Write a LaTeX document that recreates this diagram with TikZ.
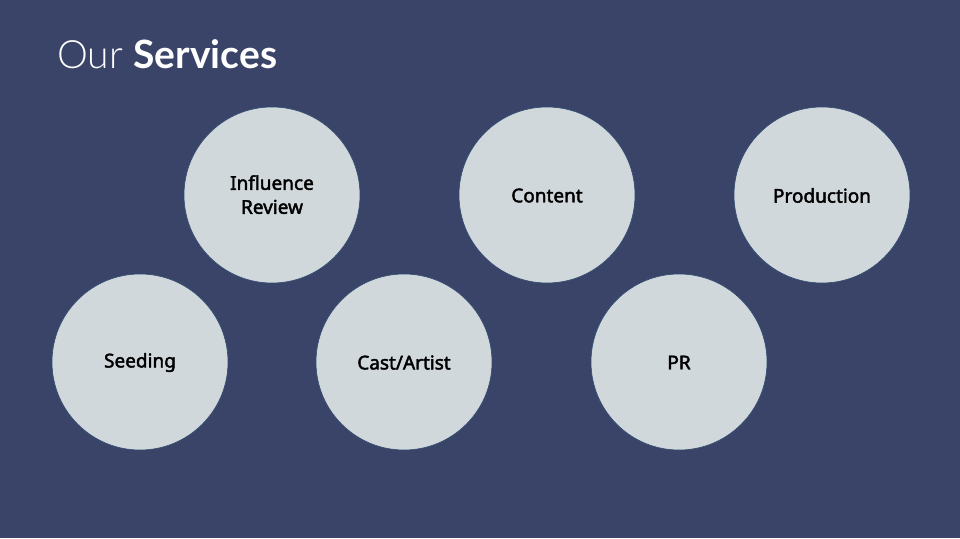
\documentclass[tikz,border=0pt]{standalone}
\usepackage{fontspec}
\setmainfont{Noto Sans}
\newfontfamily\svcfont{Noto Sans}[FakeBold=2.2]
\newfontfamily\titlefont{Lato Light}
\newfontfamily\titlebold{Lato Bold}
\definecolor{bg}{HTML}{3A4468}
\definecolor{disc}{HTML}{D0D8DC}
\definecolor{discedge}{HTML}{2E4A6E}
\newcommand{\dn}[2][-2pt]{\raisebox{#1}[\height][\depth]{#2}}
\begin{document}
\begin{tikzpicture}[x=1pt,y=-1pt,
  service/.style={circle,fill=disc,draw=discedge,line width=0.6pt,minimum size=176pt,inner sep=0pt,
    align=center,font=\fontsize{19}{24}\selectfont\svcfont,text=black}]
\fill[bg] (0,0) rectangle (960,538);
\useasboundingbox (0,0) rectangle (960,538);
\node[anchor=base west,text=white,inner sep=0pt] (title) at (57,68)
  {\fontsize{39}{46}\selectfont\titlefont Our \titlebold Services};
\node[service] (influence) at (272,195) {\dn{\begin{tabular}{@{}c@{}}Influence\\Review\end{tabular}}};
\node[service] (content) at (547,195) {\dn[-0.5pt]{Content}};
\node[service] (production) at (822,195) {\dn[-0.5pt]{Production}};
\node[service] (seeding) at (140,362) {\dn[-0.5pt]{Seeding}};
\node[service] (cast) at (404,362) {\dn[-0.5pt]{Cast/Artist}};
\node[service] (pr) at (679,362) {\dn[-0.5pt]{PR}};
\end{tikzpicture}
\end{document}
